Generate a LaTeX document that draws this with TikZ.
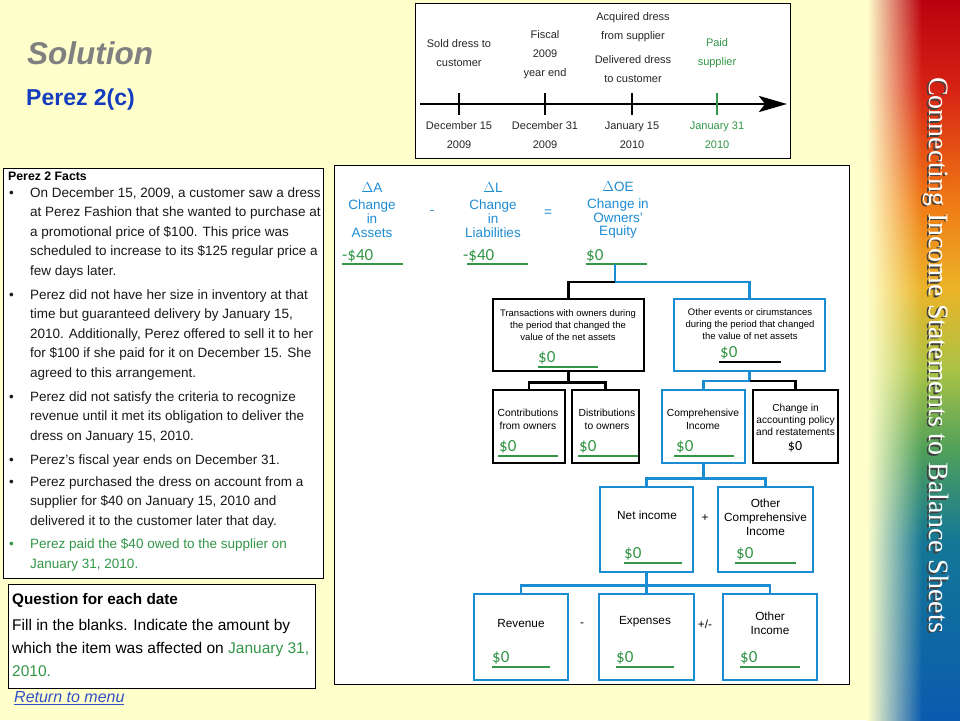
\documentclass[tikz,border=0pt]{standalone}
\usepackage{fontspec}
\setmainfont{Liberation Sans}
\newfontfamily\sidefont{Liberation Serif}
\newfontfamily\valfont{Carlito}
\usepackage{tikz}
\usetikzlibrary{arrows.meta,positioning,fadings}
\usepackage{xcolor}
\definecolor{slideyellow}{RGB}{255,255,204}
\definecolor{titlegray}{RGB}{128,128,128}
\definecolor{titleblue}{RGB}{20,60,190}
\definecolor{eqblue}{RGB}{30,140,210}
\definecolor{boxblue}{RGB}{25,140,210}
\definecolor{valgreen}{RGB}{50,150,70}
\definecolor{linkblue}{RGB}{50,80,200}
\definecolor{sbdark}{RGB}{185,0,15}
\definecolor{sbred}{RGB}{215,35,20}
\definecolor{sborange}{RGB}{240,120,20}
\definecolor{sbgold}{RGB}{235,180,40}
\definecolor{sblime}{RGB}{170,195,70}
\definecolor{sbgreen}{RGB}{80,160,90}
\definecolor{sbteal}{RGB}{20,120,150}
\definecolor{sbblue}{RGB}{10,90,175}
\tikzfading[name=sidefade, left color=transparent!0, right color=transparent!100]

\tikzset{
  tltext/.style={font=\fontsize{11}{19}\selectfont, align=center, inner sep=0pt, text=black!85},
  facttext/.style={font=\fontsize{13.5}{19.5}\selectfont, align=left, inner sep=0pt, anchor=west, text=black!90},
  eqtext/.style={font=\fontsize{13.5}{13.7}\selectfont, align=center, inner sep=0pt, text=eqblue},
  blackbox/.style={draw=black, line width=2.5pt, inner sep=0pt},
  bluebox/.style={draw=boxblue, line width=2.5pt, inner sep=0pt},
  blackline/.style={draw=black, line width=2.5pt},
  blueline/.style={draw=boxblue, line width=2.5pt},
  smalltext/.style={font=\fontsize{9.5}{12}\selectfont, align=center, inner sep=0pt},
  boxtext/.style={font=\fontsize{10.3}{13}\selectfont, align=center, inner sep=0pt},
  bigtext/.style={font=\fontsize{11.8}{14}\selectfont, align=center, inner sep=0pt},
  val/.style={font=\valfont\fontsize{17}{17}\selectfont, text=valgreen, anchor=base west, inner sep=0pt},
  valline/.style={draw=valgreen, line width=2pt},
}

\begin{document}
\begin{tikzpicture}[x=1pt,y=-1pt]
    \useasboundingbox (0,0) rectangle (960,720);
    % slide background and side band
    \fill[slideyellow] (0,0) rectangle (960,720);
    \shade[top color=sbdark, bottom color=sbred] (868,-2) rectangle (962,90);
    \shade[top color=sbred, bottom color=sborange] (868,89.5) rectangle (962,200);
    \shade[top color=sborange, bottom color=sbgold] (868,199.5) rectangle (962,290);
    \shade[top color=sbgold, bottom color=sblime] (868,289.5) rectangle (962,370);
    \shade[top color=sblime, bottom color=sbgreen] (868,369.5) rectangle (962,450);
    \shade[top color=sbgreen, bottom color=sbteal] (868,449.5) rectangle (962,540);
    \shade[top color=sbteal, bottom color=sbblue] (868,539.5) rectangle (962,722);
    \fill[slideyellow, path fading=sidefade] (867,-2) rectangle (922,722);
    \node[rotate=-90, inner sep=0pt, text=black!75, font=\sidefont\fontsize{28}{28}\selectfont] (sideshadow) at (934.5,356.5) {Connecting Income Statements to Balance Sheets};
    \node[rotate=-90, inner sep=0pt, text=white, font=\sidefont\fontsize{28}{28}\selectfont] (sidetitle) at (936,355) {Connecting Income Statements to Balance Sheets};

    % Titles
    \node[anchor=west, inner sep=0pt, text=titlegray, font=\bfseries\itshape\fontsize{31.5}{32}\selectfont] (solution) at (27,53) {Solution};
    \node[anchor=west, inner sep=0pt, text=titleblue, font=\bfseries\fontsize{23}{23}\selectfont] (perez) at (26,100) {Perez 2(c)};

    % Timeline
    \draw[fill=white, line width=1pt] (415,3) rectangle (790,158);
    \coordinate (tlstart) at (420,104);
    \coordinate (tlend) at (787,104);
    \draw[line width=2.6pt, -{Stealth[length=28pt,width=16pt,inset=6pt]}] (tlstart) -- (tlend);
    \draw[line width=2pt] (459,93) -- (459,115);
    \draw[line width=2pt] (545,93) -- (545,115);
    \draw[line width=2pt] (632,93) -- (632,115);
    \draw[line width=2pt, valgreen] (717,93) -- (717,115);
    \node[tltext] (sold) at (459,53.5) {Sold dress to\\customer};
    \node[tltext] (fiscal) at (545,54.5) {Fiscal\\2009\\year end};
    \node[tltext] (acquired) at (633,27.5) {Acquired dress\\from supplier};
    \node[tltext] (delivered) at (633,69.5) {Delivered dress\\to customer};
    \node[tltext, text=valgreen] (paid) at (717,53.5) {Paid\\supplier};
    \node[tltext] (dec15) at (459,135.5) {December 15\\2009};
    \node[tltext] (dec31) at (545,135.5) {December 31\\2009};
    \node[tltext] (jan15) at (632,135.5) {January 15\\2010};
    \node[tltext, text=valgreen] (jan31) at (717,135.5) {January 31\\2010};

    % Facts
    \draw[fill=white, line width=1pt] (3,168) rectangle (323,578);
    \node[anchor=west, inner sep=0pt, font=\bfseries\fontsize{12.3}{14}\selectfont] (facts) at (8,176) {Perez 2 Facts};
    \node[facttext] (dot1) at (9,194) {•};
    \node[facttext] (fact1) at (30,233) {On December 15, 2009, a customer saw a dress\\at Perez Fashion that she wanted to purchase at\\a promotional price of \$100. This price was\\scheduled to increase to its \$125 regular price a\\few days later.};
    \node[facttext] (dot2) at (9,296) {•};
    \node[facttext] (fact2) at (30,335) {Perez did not have her size in inventory at that\\time but guaranteed delivery by January 15,\\2010. Additionally, Perez offered to sell it to her\\for \$100 if she paid for it on December 15. She\\agreed to this arrangement.};
    \node[facttext] (dot3) at (9,398) {•};
    \node[facttext] (fact3) at (30,417.5) {Perez did not satisfy the criteria to recognize\\revenue until it met its obligation to deliver the\\dress on January 15, 2010.};
    \node[facttext] (dot4) at (9,461) {•};
    \node[facttext] (fact4) at (30,461) {Perez's fiscal year ends on December 31.};
    \node[facttext] (dot5) at (9,483) {•};
    \node[facttext] (fact5) at (30,502.5) {Perez purchased the dress on account from a\\supplier for \$40 on January 15, 2010 and\\delivered it to the customer later that day.};
    \node[facttext, text=valgreen] (dot6) at (9,545) {•};
    \node[facttext, text=valgreen] (fact6) at (30,555) {Perez paid the \$40 owed to the supplier on\\January 31, 2010.};

    % Question
    \draw[fill=white, line width=1pt] (8,584) rectangle (315,688);
    \node[anchor=west, inner sep=0pt, font=\bfseries\fontsize{15.3}{17}\selectfont] (qhead) at (12,600) {Question for each date};
    \node[anchor=west, inner sep=0pt, align=left, font=\fontsize{15.5}{23}\selectfont] (qtext) at (12,648) {Fill in the blanks. Indicate the amount by\\which the item was affected on \textcolor{valgreen}{January 31,}\\\textcolor{valgreen}{2010.}};
    \node[anchor=west, inner sep=0pt, text=linkblue, font=\itshape\fontsize{16}{16}\selectfont] (menu) at (14,698) {\underline{Return to menu}};

    % Equation
    \draw[fill=white, line width=1pt] (334,165) rectangle (849,684);
    \node[eqtext] (dA) at (372,210) {$\Delta$A\\[3.5pt]Change\\in\\Assets};
    \node[eqtext] (minus) at (432,212) {-};
    \node[eqtext] (dL) at (493,210) {$\Delta$L\\[3.5pt]Change\\in\\Liabilities};
    \node[eqtext] (equals) at (548,213) {=};
    \node[eqtext] (dOE) at (618,210) {$\Delta$OE\\[3.5pt]Change in\\Owners'\\Equity};
    \node[val] (vA) at (342,260) {-\$40};
    \draw[valline] (342,264) -- (403,264);
    \node[val] (vL) at (463,260) {-\$40};
    \draw[valline] (467,264) -- (528,264);
    \node[val] (vOE) at (586,260) {\$0};
    \draw[valline] (586,264) -- (647,264);

    % Boxes
    \node[blackbox, minimum width=151pt, minimum height=72pt] (trans) at (568.5,335) {};
    \node[bluebox, minimum width=151pt, minimum height=72pt] (other) at (749.5,335) {};
    \node[blackbox, minimum width=72pt, minimum height=73pt] (contrib) at (529,426.5) {};
    \node[blackbox, minimum width=67pt, minimum height=73pt] (distrib) at (605.5,426.5) {};
    \node[bluebox, minimum width=83pt, minimum height=73pt] (comp) at (703.5,426.5) {};
    \node[blackbox, minimum width=85pt, minimum height=73pt] (change) at (795.5,426.5) {};
    \node[bluebox, minimum width=93pt, minimum height=85pt] (netinc) at (646.5,529.5) {};
    \node[bluebox, minimum width=95pt, minimum height=85pt] (oci) at (765.5,529.5) {};
    \node[bluebox, minimum width=94pt, minimum height=86pt] (rev) at (521,637) {};
    \node[bluebox, minimum width=95pt, minimum height=86pt] (exp) at (646.5,637) {};
    \node[bluebox, minimum width=94pt, minimum height=86pt] (othinc) at (770,637) {};

    % Connectors
    \coordinate (oeline) at (615,264);
    \coordinate (split) at (615,282);
    \draw[blueline] (oeline) -- (split) -| (other.north);
    \draw[blackline] (split) -| (trans.north);
    \draw[blackline] (trans.south) -- ++(0,10) -| (contrib.north);
    \draw[blackline] (trans.south) -- ++(0,10) -| (distrib.north);
    \coordinate (split2) at (749.5,381);
    \draw[blueline] (other.south) -- (split2) -| (comp.north);
    \draw[blackline] (split2) -| (change.north);
    \draw[blueline] (comp.south) -- ++(0,14) -| (netinc.north);
    \draw[blueline] (comp.south) -- ++(0,14) -| (oci.north);
    \draw[blueline] (netinc.south) -- ++(0,12) -| (rev.north);
    \draw[blueline] (netinc.south) -- ++(0,12) -| (othinc.north);
    \draw[blueline] (netinc.south) -- (exp.north);

    % Box texts
    \node[smalltext] (transtext) at (568,325) {Transactions with owners during\\the period that changed the\\value of the net assets};
    \node[val] (vtrans) at (538,362.5) {\$0};
    \draw[valline] (538,367) -- (598,367);
    \node[smalltext] (othertext) at (750,324.5) {Other events or cirumstances\\during the period that changed\\the value of net assets};
    \node[val] (vother) at (720,357.5) {\$0};
    \draw[line width=2pt] (719,362) -- (781,362);
    \node[boxtext] (contribtext) at (528,419.5) {Contributions\\from owners};
    \node[val] (vcontrib) at (499,451.5) {\$0};
    \draw[valline] (498,456) -- (558,456);
    \node[boxtext] (distribtext) at (607,419.5) {Distributions\\to owners};
    \node[val] (vdistrib) at (579,451.5) {\$0};
    \draw[valline] (578,456) -- (638,456);
    \node[boxtext] (comptext) at (703,419.5) {Comprehensive\\Income};
    \node[val] (vcomp) at (676,451.5) {\$0};
    \draw[valline] (674,456) -- (734,456);
    \node[boxtext, font=\fontsize{10.2}{12}\selectfont] (changetext) at (795.5,420) {Change in\\accounting policy\\and restatements};
    \node[inner sep=0pt, font=\valfont\fontsize{14}{14}\selectfont] (vchange) at (795,447) {\$0};

    \node[bigtext] (nettext) at (647,515) {Net income};
    \node[val] (vnet) at (624,558.5) {\$0};
    \draw[valline] (624,563) -- (682,563);
    \node[bigtext] (plus) at (705,518) {+};
    \node[bigtext] (ocitext) at (765.5,517) {Other\\Comprehensive\\Income};
    \node[val] (voci) at (736,558.5) {\$0};
    \draw[valline] (735,563) -- (796,563);

    \node[bigtext] (revtext) at (521,623) {Revenue};
    \node[val] (vrev) at (492,662.5) {\$0};
    \draw[valline] (492,667) -- (550,667);
    \node[bigtext] (minus2) at (582,625) {-};
    \node[bigtext] (exptext) at (645,622) {Expenses};
    \node[val] (vexp) at (616,662.5) {\$0};
    \draw[valline] (616,667) -- (674,667);
    \node[bigtext] (pm) at (705,624) {+/-};
    \node[bigtext] (othtext) at (770,623) {Other\\Income};
    \node[val] (voth) at (740,662.5) {\$0};
    \draw[valline] (740,667) -- (800,667);
\end{tikzpicture}
\end{document}
